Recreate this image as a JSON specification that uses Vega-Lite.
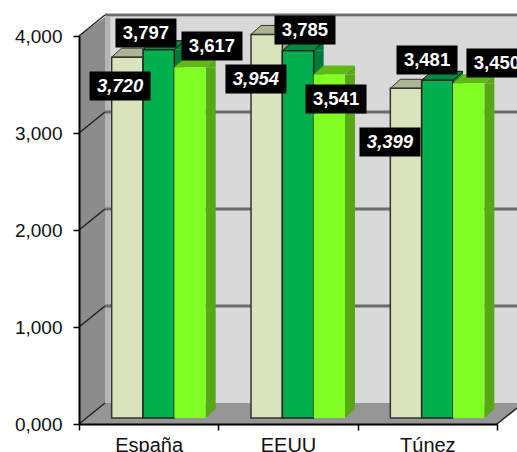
{"$schema":"https://vega.github.io/schema/vega-lite/v6.json","width":418,"height":388,"autosize":{"type":"none"},"padding":{"left":79,"top":36,"right":20,"bottom":28},"background":"white","config":{"locale":{"number":{"decimal":",","thousands":".","grouping":[3],"currency":["","€"]}},"view":{"stroke":null},"font":"Liberation Sans"},"data":{"values":[{"pais":"España","serie":"S1","valor":3.72},{"pais":"España","serie":"S2","valor":3.797},{"pais":"España","serie":"S3","valor":3.617},{"pais":"EEUU","serie":"S1","valor":3.954},{"pais":"EEUU","serie":"S2","valor":3.785},{"pais":"EEUU","serie":"S3","valor":3.541},{"pais":"Túnez","serie":"S1","valor":3.399},{"pais":"Túnez","serie":"S2","valor":3.481},{"pais":"Túnez","serie":"S3","valor":3.45}]},"resolve":{"scale":{"x":"independent"},"axis":{"x":"independent"}},"layer":[{"encoding":{"x":{"field":"x","type":"quantitative","scale":{"domain":[0,3],"nice":false,"zero":false},"axis":null},"y":{"field":"y","type":"quantitative","title":null,"scale":{"domain":[0,4],"nice":false},"axis":{"values":[0,1,2,3,4],"format":".3f","grid":false,"title":null,"domainColor":"#000","domainWidth":2,"tickColor":"#000","tickWidth":1.5,"tickSize":6,"labelFontSize":19,"labelColor":"#111","labelFont":"Liberation Sans","labelPadding":11,"zindex":1}}},"layer":[{"data":{"values":[{"x":0.187,"x2":3.144,"y":0.216,"y2":4.196}]},"mark":{"type":"rect","fill":"#d9d9d9"},"encoding":{"x2":{"field":"x2"},"y2":{"field":"y2"}}},{"data":{"values":[{"x":0.187,"x2":0.225,"y":0.216,"y2":4.196}]},"mark":{"type":"rect","fill":"#b5b5b5"},"encoding":{"x2":{"field":"x2"},"y2":{"field":"y2"}}},{"data":{"values":[{"x":0,"y":0,"y2":4},{"x":0.187,"y":0.216,"y2":4.196}]},"mark":{"type":"area","fill":"#8c8c8c","opacity":1},"encoding":{"y2":{"field":"y2"}}},{"data":{"values":[{"x":0,"y":0,"y2":0},{"x":0.187,"y":0,"y2":0.216},{"x":3,"y":0,"y2":0.216},{"x":3.144,"y":0.165,"y2":0.216}]},"mark":{"type":"area","fill":"#969696","opacity":1},"encoding":{"y2":{"field":"y2"}}},{"data":{"values":[{"x":0.187,"x2":3.144,"y":1},{"x":0.187,"x2":3.144,"y":2},{"x":0.187,"x2":3.144,"y":3},{"x":0.187,"x2":3.144,"y":4}]},"mark":{"type":"rule","stroke":"#6b6b6b","strokeWidth":3,"yOffset":-21},"encoding":{"x2":{"field":"x2"}}},{"data":{"values":[{"x":0,"y":0},{"x":0,"y":1},{"x":0,"y":2},{"x":0,"y":3},{"x":0,"y":4}]},"mark":{"type":"point","shape":"M0,0L26,-21","size":4,"filled":false,"stroke":"#222","strokeWidth":1.5,"opacity":1}},{"data":{"values":[{"x":3,"y":0}]},"mark":{"type":"point","shape":"M0,0L20,-16","size":4,"filled":false,"stroke":"#222","strokeWidth":1.5,"opacity":1}}]},{"encoding":{"x":{"field":"pais","type":"nominal","sort":null,"title":null,"scale":{"domain":["España","EEUU","Túnez"],"paddingInner":0,"paddingOuter":0},"axis":{"labelAngle":0,"tickBand":"extent","domainColor":"#000","domainWidth":2,"tickColor":"#000","tickWidth":1.5,"tickSize":6,"labelFontSize":20,"labelColor":"#111","labelFont":"Liberation Sans","labelPadding":5,"title":null,"zindex":1}},"y":{"field":"valor","type":"quantitative","stack":null,"title":null,"scale":{"domain":[0,4],"nice":false},"axis":{"values":[0,1,2,3,4],"format":".3f","grid":false,"title":null,"domainColor":"#000","domainWidth":2,"tickColor":"#000","tickWidth":1.5,"tickSize":6,"labelFontSize":19,"labelColor":"#111","labelFont":"Liberation Sans","labelPadding":11,"zindex":1}}},"layer":[{"transform":[{"filter":"datum.serie=='S1'"}],"layer":[{"mark":{"type":"bar","width":10,"fill":"#9aa584","xOffset":-0.66,"yOffset":-6,"y2Offset":-15},"encoding":{"y2":{"datum":0}}},{"mark":{"type":"point","filled":true,"opacity":1,"size":4,"fill":"#9aa584","xOffset":-21.33,"yOffset":-6,"shape":"M15.67,0L25.67,0L25.67,-9Z"}},{"mark":{"type":"point","filled":true,"opacity":1,"size":4,"fill":"#abb593","stroke":"#333","strokeWidth":1,"xOffset":-21.33,"yOffset":-6,"shape":"M-15.67,0L15.67,0L25.67,-9L-5.67,-9Z"}},{"mark":{"type":"bar","width":31.33,"fill":"#d9e4bd","stroke":"#333","strokeWidth":1.5,"xOffset":-21.33,"yOffset":-6,"y2Offset":-6},"encoding":{"y2":{"datum":0}}}]},{"transform":[{"filter":"datum.serie=='S2'"}],"layer":[{"mark":{"type":"bar","width":10,"fill":"#007a3a","xOffset":30.67,"yOffset":-6,"y2Offset":-15},"encoding":{"y2":{"datum":0}}},{"mark":{"type":"point","filled":true,"opacity":1,"size":4,"fill":"#007a3a","xOffset":10,"yOffset":-6,"shape":"M15.67,0L25.67,0L25.67,-9Z"}},{"mark":{"type":"point","filled":true,"opacity":1,"size":4,"fill":"#008a42","stroke":"#111","strokeWidth":1,"xOffset":10,"yOffset":-6,"shape":"M-15.67,0L15.67,0L25.67,-9L-5.67,-9Z"}},{"mark":{"type":"bar","width":31.33,"fill":"#00b04f","stroke":"#222","strokeWidth":1.5,"xOffset":10,"yOffset":-6,"y2Offset":-6},"encoding":{"y2":{"datum":0}}}]},{"transform":[{"filter":"datum.serie=='S3'"}],"layer":[{"mark":{"type":"bar","width":10,"fill":"#58a815","xOffset":62,"yOffset":-6,"y2Offset":-15},"encoding":{"y2":{"datum":0}}},{"mark":{"type":"point","filled":true,"opacity":1,"size":4,"fill":"#58a815","xOffset":41.33,"yOffset":-6,"shape":"M15.67,0L25.67,0L25.67,-9Z"}},{"mark":{"type":"point","filled":true,"opacity":1,"size":4,"fill":"#58a815","xOffset":41.33,"yOffset":-6,"shape":"M15.67,-9L25.67,-9L15.67,0Z"},"encoding":{"y":{"datum":0,"type":"quantitative"}}},{"mark":{"type":"point","filled":true,"opacity":1,"size":4,"fill":"#5fb816","xOffset":41.33,"yOffset":-6,"shape":"M-15.67,0L15.67,0L25.67,-9L-5.67,-9Z"}},{"mark":{"type":"bar","width":31.33,"fill":"#7fff24","xOffset":41.33,"yOffset":-6,"y2Offset":-6},"encoding":{"y2":{"datum":0}}}]},{"transform":[{"filter":"datum.valor==3.72"}],"layer":[{"mark":{"type":"point","filled":true,"opacity":1,"size":4,"fill":"#000","shape":"M-30.5,-14.5H30.5V14.5H-30.5Z","xOffset":-28.63,"yOffset":22.8}},{"mark":{"type":"text","font":"Liberation Sans","fontSize":18.5,"fontWeight":"bold","fontStyle":"italic","fill":"#fff","xOffset":-28.63,"yOffset":22.8,"baseline":"middle"},"encoding":{"text":{"field":"valor","type":"quantitative","format":".3f"}}}]},{"transform":[{"filter":"datum.valor==3.797"}],"layer":[{"mark":{"type":"point","filled":true,"opacity":1,"size":4,"fill":"#000","shape":"M-30.5,-14.5H30.5V14.5H-30.5Z","xOffset":-2.7,"yOffset":-22.7}},{"mark":{"type":"text","font":"Liberation Sans","fontSize":18.5,"fontWeight":"bold","fill":"#fff","xOffset":-2.7,"yOffset":-22.7,"baseline":"middle"},"encoding":{"text":{"field":"valor","type":"quantitative","format":".3f"}}}]},{"transform":[{"filter":"datum.valor==3.617"}],"layer":[{"mark":{"type":"point","filled":true,"opacity":1,"size":4,"fill":"#000","shape":"M-30.5,-14.5H30.5V14.5H-30.5Z","xOffset":63.33,"yOffset":-27.2}},{"mark":{"type":"text","font":"Liberation Sans","fontSize":18.5,"fontWeight":"bold","fill":"#fff","xOffset":63.33,"yOffset":-27.2,"baseline":"middle"},"encoding":{"text":{"field":"valor","type":"quantitative","format":".3f"}}}]},{"transform":[{"filter":"datum.valor==3.954"}],"layer":[{"mark":{"type":"point","filled":true,"opacity":1,"size":4,"fill":"#000","shape":"M-30.5,-14.5H30.5V14.5H-30.5Z","xOffset":-32.03,"yOffset":38.5}},{"mark":{"type":"text","font":"Liberation Sans","fontSize":18.5,"fontWeight":"bold","fontStyle":"italic","fill":"#fff","xOffset":-32.03,"yOffset":38.5,"baseline":"middle"},"encoding":{"text":{"field":"valor","type":"quantitative","format":".3f"}}}]},{"transform":[{"filter":"datum.valor==3.785"}],"layer":[{"mark":{"type":"point","filled":true,"opacity":1,"size":4,"fill":"#000","shape":"M-30.5,-14.5H30.5V14.5H-30.5Z","xOffset":17,"yOffset":-26.9}},{"mark":{"type":"text","font":"Liberation Sans","fontSize":18.5,"fontWeight":"bold","fill":"#fff","xOffset":17,"yOffset":-26.9,"baseline":"middle"},"encoding":{"text":{"field":"valor","type":"quantitative","format":".3f"}}}]},{"transform":[{"filter":"datum.valor==3.541"}],"layer":[{"mark":{"type":"point","filled":true,"opacity":1,"size":4,"fill":"#000","shape":"M-30.5,-14.5H30.5V14.5H-30.5Z","xOffset":48.03,"yOffset":18.5}},{"mark":{"type":"text","font":"Liberation Sans","fontSize":18.5,"fontWeight":"bold","fill":"#fff","xOffset":48.03,"yOffset":18.5,"baseline":"middle"},"encoding":{"text":{"field":"valor","type":"quantitative","format":".3f"}}}]},{"transform":[{"filter":"datum.valor==3.399"}],"layer":[{"mark":{"type":"point","filled":true,"opacity":1,"size":4,"fill":"#000","shape":"M-30.5,-14.5H30.5V14.5H-30.5Z","xOffset":-37.33,"yOffset":47.7}},{"mark":{"type":"text","font":"Liberation Sans","fontSize":18.5,"fontWeight":"bold","fontStyle":"italic","fill":"#fff","xOffset":-37.33,"yOffset":47.7,"baseline":"middle"},"encoding":{"text":{"field":"valor","type":"quantitative","format":".3f"}}}]},{"transform":[{"filter":"datum.valor==3.481"}],"layer":[{"mark":{"type":"point","filled":true,"opacity":1,"size":4,"fill":"#000","shape":"M-30.5,-14.5H30.5V14.5H-30.5Z","xOffset":-0.3,"yOffset":-26.3}},{"mark":{"type":"text","font":"Liberation Sans","fontSize":18.5,"fontWeight":"bold","fill":"#fff","xOffset":-0.3,"yOffset":-26.3,"baseline":"middle"},"encoding":{"text":{"field":"valor","type":"quantitative","format":".3f"}}}]},{"transform":[{"filter":"datum.valor==3.45"}],"layer":[{"mark":{"type":"point","filled":true,"opacity":1,"size":4,"fill":"#000","shape":"M-30.5,-14.5H30.5V14.5H-30.5Z","xOffset":69.63,"yOffset":-26.4}},{"mark":{"type":"text","font":"Liberation Sans","fontSize":18.5,"fontWeight":"bold","fill":"#fff","xOffset":69.63,"yOffset":-26.4,"baseline":"middle"},"encoding":{"text":{"field":"valor","type":"quantitative","format":".3f"}}}]}]}]}
